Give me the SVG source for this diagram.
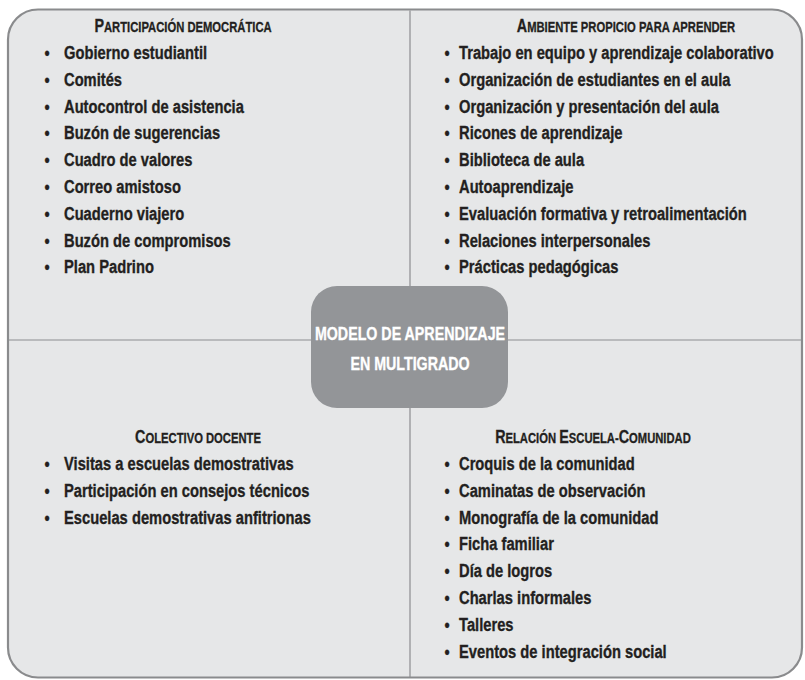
<svg xmlns="http://www.w3.org/2000/svg" width="805" height="680" viewBox="0 0 805 680">
<style>
.t{font-family:"Liberation Sans",Arial,sans-serif;font-weight:bold;font-size:19px;fill:#231f20;stroke:#231f20;stroke-width:0.35}
.h{font-family:"Liberation Sans",Arial,sans-serif;font-weight:bold;font-size:18.5px;fill:#231f20;stroke:#231f20;stroke-width:0.3;text-anchor:middle}
.sc{font-size:14.5px}
.c{font-family:"Liberation Sans",Arial,sans-serif;font-weight:bold;font-size:19px;fill:#ffffff;stroke:#ffffff;stroke-width:0.35;text-anchor:middle}
.ln{stroke:#8c8d8f;stroke-width:1.2;fill:none}
</style>
<rect x="0" y="0" width="805" height="680" fill="#ffffff"/>
<rect id="frame" x="8" y="9.5" width="794" height="668" rx="30" ry="30" fill="#e6e7e8" stroke="#8a8b8d" stroke-width="2.2"/>
<g id="connectors">
<line class="ln" x1="410" y1="10.5" x2="410" y2="286"/>
<line class="ln" x1="410" y1="408" x2="410" y2="677"/>
<line class="ln" x1="9" y1="340" x2="311" y2="340"/>
<line class="ln" x1="508" y1="340" x2="801" y2="340"/>
</g>
<g id="center">
<rect x="311" y="286" width="197" height="122" rx="26" ry="26" fill="#939598"/>
<g transform="translate(410,0) scale(0.75,1)">
<text class="c" x="0" y="340">MODELO DE APRENDIZAJE</text>
<text class="c" x="0" y="370">EN MULTIGRADO</text>
</g>
</g>
<g id="participacion">
<g transform="translate(183,0) scale(0.775,1)"><text class="h" x="0" y="32">P<tspan class="sc">ARTICIPACIÓN DEMOCRÁTICA</tspan></text></g>
<g transform="translate(44.5,0) scale(0.775,1)">
<text class="t" x="0" y="59">•</text><text class="t" x="0" y="85.8">•</text><text class="t" x="0" y="112.6">•</text><text class="t" x="0" y="139.4">•</text><text class="t" x="0" y="166.2">•</text><text class="t" x="0" y="193">•</text><text class="t" x="0" y="219.8">•</text><text class="t" x="0" y="246.6">•</text><text class="t" x="0" y="273.4">•</text>
</g>
<g transform="translate(64,0) scale(0.775,1)">
<text class="t" x="0" y="59">Gobierno estudiantil</text>
<text class="t" x="0" y="85.8">Comités</text>
<text class="t" x="0" y="112.6">Autocontrol de asistencia</text>
<text class="t" x="0" y="139.4">Buzón de sugerencias</text>
<text class="t" x="0" y="166.2">Cuadro de valores</text>
<text class="t" x="0" y="193">Correo amistoso</text>
<text class="t" x="0" y="219.8">Cuaderno viajero</text>
<text class="t" x="0" y="246.6">Buzón de compromisos</text>
<text class="t" x="0" y="273.4">Plan Padrino</text>
</g>
</g>
<g id="ambiente">
<g transform="translate(626,0) scale(0.775,1)"><text class="h" x="0" y="32">A<tspan class="sc">MBIENTE PROPICIO PARA APRENDER</tspan></text></g>
<g transform="translate(444.5,0) scale(0.775,1)">
<text class="t" x="0" y="59">•</text><text class="t" x="0" y="85.8">•</text><text class="t" x="0" y="112.6">•</text><text class="t" x="0" y="139.4">•</text><text class="t" x="0" y="166.2">•</text><text class="t" x="0" y="193">•</text><text class="t" x="0" y="219.8">•</text><text class="t" x="0" y="246.6">•</text><text class="t" x="0" y="273.4">•</text>
</g>
<g transform="translate(459,0) scale(0.775,1)">
<text class="t" x="0" y="59">Trabajo en equipo y aprendizaje colaborativo</text>
<text class="t" x="0" y="85.8">Organización de estudiantes en el aula</text>
<text class="t" x="0" y="112.6">Organización y presentación del aula</text>
<text class="t" x="0" y="139.4">Ricones de aprendizaje</text>
<text class="t" x="0" y="166.2">Biblioteca de aula</text>
<text class="t" x="0" y="193">Autoaprendizaje</text>
<text class="t" x="0" y="219.8">Evaluación formativa y retroalimentación</text>
<text class="t" x="0" y="246.6">Relaciones interpersonales</text>
<text class="t" x="0" y="273.4">Prácticas pedagógicas</text>
</g>
</g>
<g id="colectivo">
<g transform="translate(198,0) scale(0.775,1)"><text class="h" x="0" y="443">C<tspan class="sc">OLECTIVO DOCENTE</tspan></text></g>
<g transform="translate(44.5,0) scale(0.775,1)">
<text class="t" x="0" y="470">•</text><text class="t" x="0" y="496.8">•</text><text class="t" x="0" y="523.6">•</text>
</g>
<g transform="translate(64,0) scale(0.775,1)">
<text class="t" x="0" y="470">Visitas a escuelas demostrativas</text>
<text class="t" x="0" y="496.8">Participación en consejos técnicos</text>
<text class="t" x="0" y="523.6">Escuelas demostrativas anfitrionas</text>
</g>
</g>
<g id="relacion">
<g transform="translate(593,0) scale(0.775,1)"><text class="h" x="0" y="443">R<tspan class="sc">ELACIÓN </tspan>E<tspan class="sc">SCUELA-</tspan>C<tspan class="sc">OMUNIDAD</tspan></text></g>
<g transform="translate(444.5,0) scale(0.775,1)">
<text class="t" x="0" y="470">•</text><text class="t" x="0" y="496.8">•</text><text class="t" x="0" y="523.6">•</text><text class="t" x="0" y="550.4">•</text><text class="t" x="0" y="577.2">•</text><text class="t" x="0" y="604">•</text><text class="t" x="0" y="630.8">•</text><text class="t" x="0" y="657.6">•</text>
</g>
<g transform="translate(459,0) scale(0.775,1)">
<text class="t" x="0" y="470">Croquis de la comunidad</text>
<text class="t" x="0" y="496.8">Caminatas de observación</text>
<text class="t" x="0" y="523.6">Monografía de la comunidad</text>
<text class="t" x="0" y="550.4">Ficha familiar</text>
<text class="t" x="0" y="577.2">Día de logros</text>
<text class="t" x="0" y="604">Charlas informales</text>
<text class="t" x="0" y="630.8">Talleres</text>
<text class="t" x="0" y="657.6">Eventos de integración social</text>
</g>
</g>
</svg>
